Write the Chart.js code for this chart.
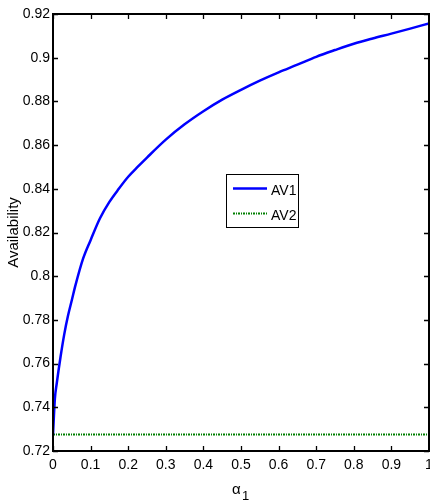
<!DOCTYPE html>
<html><head><meta charset="utf-8">
<script src="https://cdn.jsdelivr.net/npm/chart.js@4.4.1/dist/chart.umd.min.js"></script>
<style>html,body{margin:0;padding:0;background:#fff;}#wrap{width:430px;height:501px;}</style>
</head><body><div id="wrap"><canvas id="c" width="430" height="501"></canvas></div>
<script>
// ---- data ----
const alpha = [0, 0.005, 0.01, 0.02, 0.03, 0.04, 0.05, 0.06, 0.08, 0.1, 0.125, 0.15, 0.175, 0.2, 0.225, 0.25, 0.3, 0.35, 0.4, 0.45, 0.5, 0.55, 0.6, 0.65, 0.7, 0.75, 0.8, 0.85, 0.9, 0.95, 1.0];
const av1 = [0.7275, 0.744, 0.751, 0.763, 0.7735, 0.782, 0.789, 0.796, 0.808, 0.8165, 0.8265, 0.834, 0.840, 0.8455, 0.850, 0.8543, 0.8625, 0.8695, 0.8755, 0.8808, 0.8853, 0.8895, 0.8933, 0.8968, 0.9004, 0.9035, 0.9064, 0.9088, 0.911, 0.9133, 0.9157];
const av2Alpha = [0, 1];
const av2 = [0.7275, 0.7275];
const seriesNames = ['AV1', 'AV2'];
const xTickValues = [0, 0.1, 0.2, 0.3, 0.4, 0.5, 0.6, 0.7, 0.8, 0.9, 1];
const xTickLabels = ['0', '0.1', '0.2', '0.3', '0.4', '0.5', '0.6', '0.7', '0.8', '0.9', '1'];
const yTickValues = [0.72, 0.74, 0.76, 0.78, 0.8, 0.82, 0.84, 0.86, 0.88, 0.9, 0.92];
const yTickLabels = ['0.72', '0.74', '0.76', '0.78', '0.8', '0.82', '0.84', '0.86', '0.88', '0.9', '0.92'];
const xTitleMain = 'α';
const xTitleSub = '1';
const yTitle = 'Availability';

// ---- styling ----
const NARROW = "'Liberation Sans Narrow', 'Arial Narrow', 'Liberation Sans', Arial, sans-serif";
const SANS = "'Liberation Sans', Arial, sans-serif";

const framePlugin = {
  id: 'frame',
  afterDatasetsDraw(chart) {
    const {ctx, chartArea: a, scales: {x, y}} = chart;
    ctx.save();
    ctx.strokeStyle = '#000';
    ctx.lineWidth = 1.3;
    const tl = 5;
    ctx.beginPath();
    xTickValues.forEach(v => {
      const px = Math.round(x.getPixelForValue(v)) + 0.5;
      ctx.moveTo(px, a.bottom); ctx.lineTo(px, a.bottom - tl);
      ctx.moveTo(px, a.top); ctx.lineTo(px, a.top + tl);
    });
    yTickValues.forEach(v => {
      const py = Math.round(y.getPixelForValue(v)) + 0.5;
      ctx.moveTo(a.left, py); ctx.lineTo(a.left + tl, py);
      ctx.moveTo(a.right, py); ctx.lineTo(a.right - tl, py);
    });
    ctx.stroke();
    ctx.lineWidth = 2;
    ctx.strokeRect(a.left, a.top, a.right - a.left, a.bottom - a.top);
    // x title with subscript
    const cx = (a.left + a.right) / 2;
    ctx.fillStyle = '#000';
    ctx.textBaseline = 'alphabetic';
    ctx.textAlign = 'left';
    ctx.font = "15px " + SANS;
    ctx.fillText(xTitleMain, cx - 9, 494);
    ctx.font = "13px " + SANS;
    ctx.fillText(xTitleSub, cx + 1, 500);
    ctx.restore();
  }
};

const legendPlugin = {
  id: 'boxLegend',
  afterDraw(chart) {
    const {ctx} = chart;
    const bx = 226.5, by = 174.5, bw = 72, bh = 53;
    ctx.save();
    ctx.fillStyle = '#fff';
    ctx.fillRect(bx, by, bw, bh);
    ctx.strokeStyle = '#000';
    ctx.lineWidth = 1;
    ctx.strokeRect(bx, by, bw, bh);
    const rows = [188.5, 213.5];
    chart.data.datasets.forEach((ds, i) => {
      ctx.strokeStyle = ds.borderColor;
      ctx.lineWidth = ds.borderWidth;
      ctx.setLineDash(ds.borderDash || []);
      ctx.beginPath();
      ctx.moveTo(233, rows[i]); ctx.lineTo(267, rows[i]);
      ctx.stroke();
      ctx.setLineDash([]);
      ctx.fillStyle = '#000';
      ctx.font = "14px " + NARROW;
      ctx.textBaseline = 'middle';
      ctx.textAlign = 'left';
      ctx.fillText(ds.label, 271, rows[i] + 3);
    });
    ctx.restore();
  }
};

new Chart(document.getElementById('c'), {
  type: 'line',
  data: {
    datasets: [
      {
        label: seriesNames[0],
        data: alpha.map((a, i) => ({x: a, y: av1[i]})),
        borderColor: '#0000ff',
        borderWidth: 2.5,
        pointRadius: 0,
        cubicInterpolationMode: 'monotone',
        fill: false
      },
      {
        label: seriesNames[1],
        data: av2Alpha.map((a, i) => ({x: a, y: av2[i]})),
        borderColor: '#008000',
        borderWidth: 2,
        borderDash: [2, 1, 1, 1],
        pointRadius: 0,
        fill: false
      }
    ]
  },
  options: {
    responsive: false,
    devicePixelRatio: 1,
    animation: false,
    layout: {padding: {top: 14, right: 1, left: 0, bottom: 0}},
    plugins: {legend: {display: false}, tooltip: {enabled: false}},
    scales: {
      x: {
        type: 'linear', min: 0, max: 1,
        afterBuildTicks: s => { s.ticks = xTickValues.map(v => ({value: v})); },
        afterFit: s => { s.height = 50; s.paddingLeft = 0; s.paddingRight = 0; },
        grid: {display: false, drawTicks: false},
        border: {display: false},
        ticks: {
          autoSkip: false, maxRotation: 0, padding: 6, color: '#000',
          font: {family: NARROW, size: 14},
          callback: (v, i) => xTickLabels[i]
        }
      },
      y: {
        type: 'linear', min: 0.72, max: 0.92,
        afterBuildTicks: s => { s.ticks = yTickValues.map(v => ({value: v})); },
        afterFit: s => { s.width = 53; s.paddingTop = 0; s.paddingBottom = 0; },
        grid: {display: false, drawTicks: false},
        border: {display: false},
        title: {display: true, text: yTitle, color: '#000', font: {family: SANS, size: 15}, padding: {top: 5, bottom: 0}},
        ticks: {
          autoSkip: false, padding: 3, color: '#000',
          font: {family: NARROW, size: 14},
          callback: (v, i) => yTickLabels[i]
        }
      }
    }
  },
  plugins: [framePlugin, legendPlugin]
});
</script>
</body></html>
